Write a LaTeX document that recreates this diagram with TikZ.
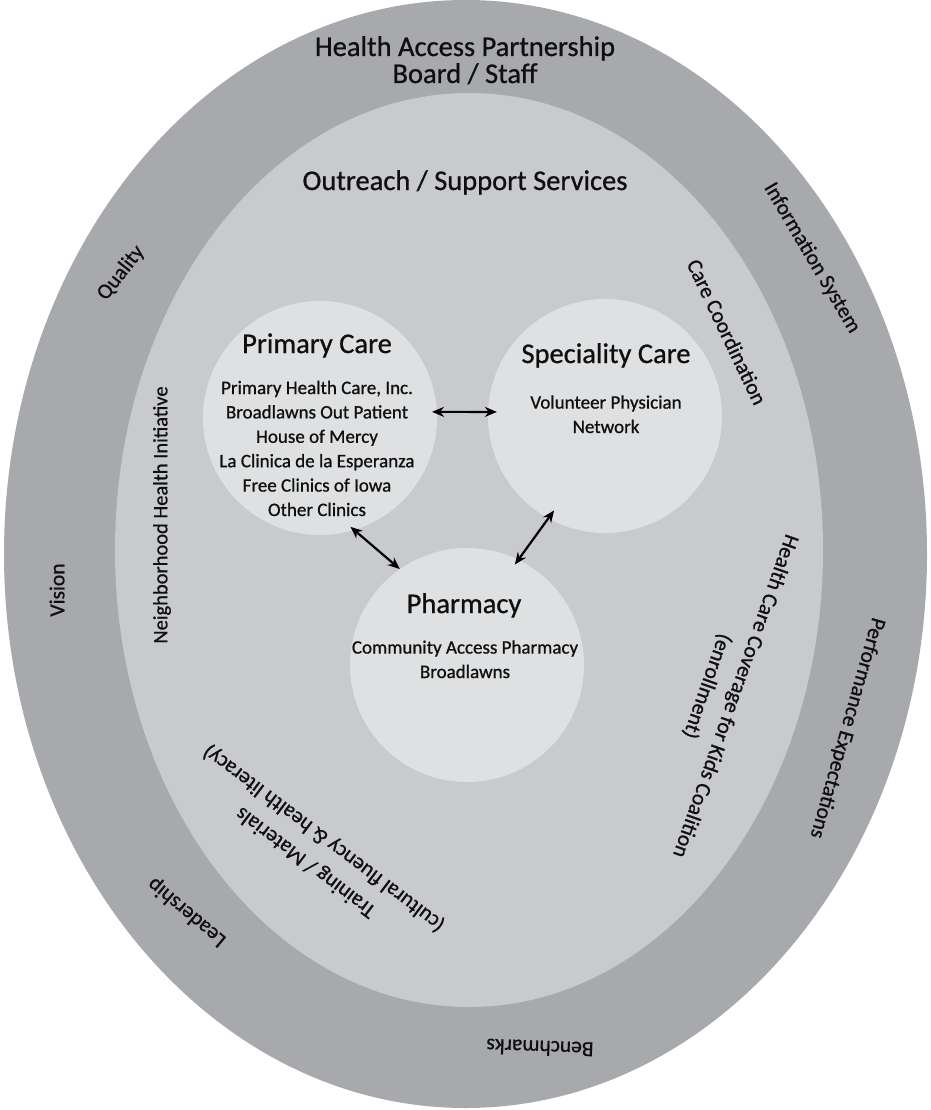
\documentclass[tikz,border=0pt]{standalone}
\usepackage{fontspec}
\setmainfont{Carlito}[RawFeature={embolden=0.8}]
\usetikzlibrary{arrows.meta,shapes.geometric}
\definecolor{ringgray}{RGB}{167,169,172}
\definecolor{innergray}{RGB}{200,202,205}
\definecolor{circgray}{RGB}{222,224,226}
\definecolor{txtcol}{RGB}{15,15,15}
\begin{document}
\begin{tikzpicture}[x=1pt,y=-1pt,
  every node/.style={inner sep=0pt,text=txtcol},
  outerband/.style={ellipse,fill=ringgray,minimum width=923pt,minimum height=1108pt},
  innerband/.style={ellipse,fill=innergray,minimum width=708pt,minimum height=914pt},
  hub/.style={circle,fill=circgray,minimum size=234pt},
  headtxt/.style={font=\fontsize{28.5}{27}\selectfont,align=center},
  titletxt/.style={font=\fontsize{28.5}{28}\selectfont,anchor=base},
  itemtxt/.style={font=\fontsize{19}{24.4}\selectfont,align=center,anchor=base},
  bandtxt/.style={font=\fontsize{21.5}{24}\selectfont},
  inbandtxt/.style={font=\fontsize{21.5}{30}\selectfont,align=center},
  biarrow/.style={line width=2.2pt,{Stealth[length=12pt,width=10pt]}-{Stealth[length=12pt,width=10pt]}}
]
\useasboundingbox (0,0) rectangle (930,1110);
\fill[white] (0,0) rectangle (930,1110);
\node[outerband] (outer) at (465.5,554) {};
\node[innerband] (inner) at (469,550) {};
\node[hub] (pc) at (320,418) {};
\node[hub] (sc) at (605,416) {};
\node[hub] (ph) at (467,665) {};

% outer band texts
\node[headtxt,anchor=base] (hap) at (465,83) {Health Access Partnership\\Board / Staff};
\node[bandtxt,rotate=52] (quality) at (121,273) {Quality};
\node[bandtxt,rotate=90] (vision) at (57,590) {Vision};
\node[bandtxt,rotate=-59.5] (infosys) at (812,258) {Information System};
\node[bandtxt,rotate=-105.8] (perf) at (847,728) {Performance Expectations};
\node[bandtxt,rotate=140] (lead) at (187,912) {Leadership};
\node[bandtxt,rotate=178] (bench) at (540,1048) {Benchmarks};

% inner band texts
\node[headtxt,anchor=base] (outreach) at (465,190) {Outreach / Support Services};
\node[inbandtxt,rotate=90,font=\fontsize{20.5}{30}\selectfont] (nhi) at (162,515) {Neighborhood Health Initiative};
\node[inbandtxt,rotate=-64.5] (carecoord) at (727,332) {Care Coordination};
\node[inbandtxt,rotate=-109.4] (hcc) at (721,691) {Health Care Coverage for Kids Coalition\\(enrollment)};
\node[inbandtxt,rotate=143] (train) at (315,850) {Training / Materials\\(cultural fluency \& health literacy)};

% circle texts
\node[titletxt] (pctitle) at (317,353) {Primary Care};
\node[itemtxt] (pcitems) at (317,516) {Primary Health Care, Inc.\\Broadlawns Out Patient\\House of Mercy\\La Clinica de la Esperanza\\Free Clinics of Iowa\\Other Clinics};
\node[titletxt] (sctitle) at (606,363) {Speciality Care};
\node[itemtxt] (scitems) at (606,433) {Volunteer Physician\\Network};
\node[titletxt] (phtitle) at (464,613) {Pharmacy};
\node[itemtxt] (phitems) at (465,678) {Community Access Pharmacy\\Broadlawns};

% connectors
\draw[biarrow,shorten <=-5pt,shorten >=-9pt] (pc.3) -- (sc.178);
\draw[biarrow,shorten <=-5pt] (pc.-73) -- (ph.125);
\draw[biarrow,shorten <=-10pt,shorten >=-6pt] (sc.-119) -- (ph.64);
\end{tikzpicture}
\end{document}
